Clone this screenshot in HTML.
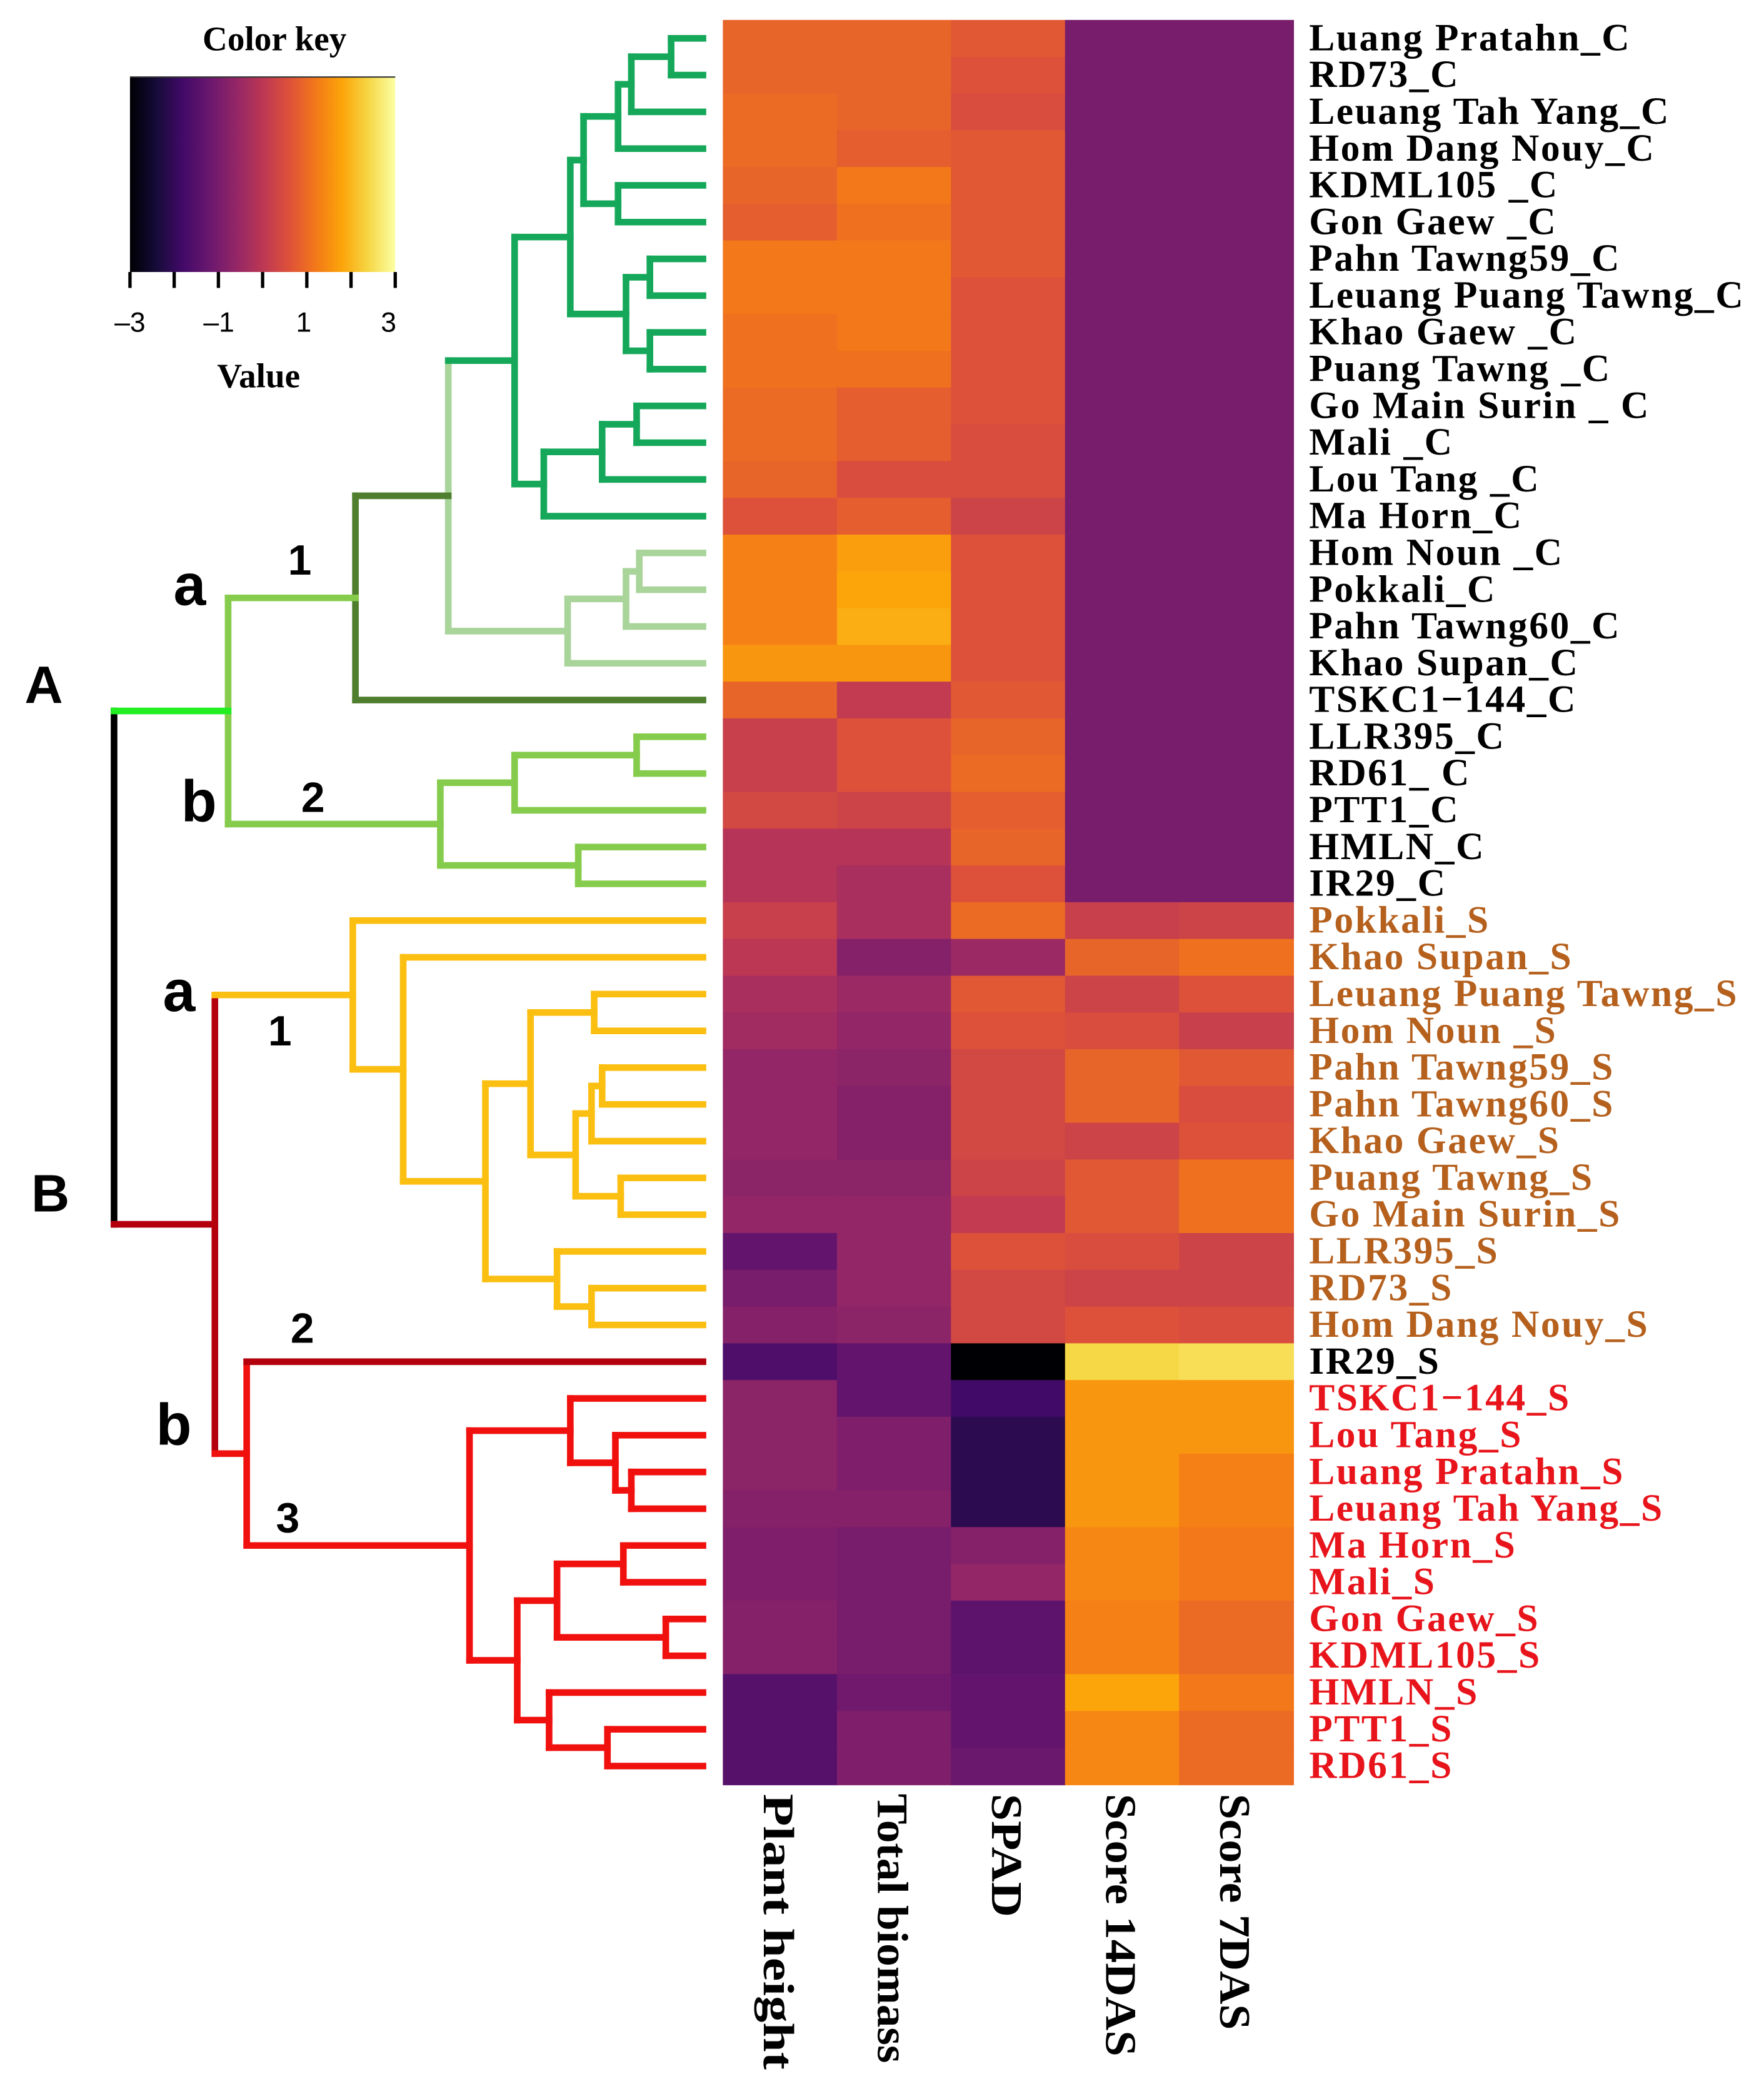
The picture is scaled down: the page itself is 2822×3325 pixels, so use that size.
<!DOCTYPE html>
<html><head><meta charset="utf-8"><style>
html,body{margin:0;padding:0;background:#fff}
svg{display:block}
.lab{font-family:"Liberation Serif",serif;font-weight:bold;font-size:29px;letter-spacing:1.2px}
.key{font-family:"Liberation Serif",serif;font-weight:bold}
.col{font-family:"Liberation Serif",serif;font-weight:bold;font-size:33px}
.big{font-family:"Liberation Sans",sans-serif;font-weight:bold}
</style></head><body>
<svg id="chart" width="2822" height="3325" viewBox="0 0 1330 1567" xmlns="http://www.w3.org/2000/svg">
<defs>
<linearGradient id="inf" x1="0" x2="1" y1="0" y2="0">
<stop offset="0" stop-color="#000004"/><stop offset="0.1" stop-color="#160b39"/><stop offset="0.2" stop-color="#420a68"/><stop offset="0.3" stop-color="#6a176e"/><stop offset="0.4" stop-color="#932667"/><stop offset="0.5" stop-color="#bc3754"/><stop offset="0.6" stop-color="#dd513a"/><stop offset="0.7" stop-color="#f37819"/><stop offset="0.8" stop-color="#fca50a"/><stop offset="0.9" stop-color="#f6d746"/><stop offset="1" stop-color="#fcffa4"/>
</linearGradient>
</defs>
<g>
<text x="207" y="38" text-anchor="middle" class="key" font-size="26">Color key</text>
<rect x="98" y="58" width="200" height="147" fill="url(#inf)"/>
<line x1="98" y1="58" x2="298" y2="58" stroke="#333" stroke-width="1"/>
<g id="keyticks" stroke="#000" stroke-width="2.5"></g>
<g font-family="Liberation Sans,sans-serif" font-size="21" text-anchor="middle">
<text x="98" y="250">–3</text><text x="165" y="250">–1</text><text x="229" y="250">1</text><text x="293" y="250">3</text></g>
<text x="195" y="292" text-anchor="middle" class="key" font-size="26">Value</text>
</g>
<g id="cells"></g>
<g id="tree" fill="none" stroke-width="5"></g>
<g id="rowlabels"></g>
<g id="collabels"></g>
<g class="big">
<text x="33" y="530" font-size="40" text-anchor="middle">A</text>
<text x="38" y="913" font-size="40" text-anchor="middle">B</text>
<text x="143" y="456" font-size="44" text-anchor="middle">a</text>
<text x="150" y="619" font-size="44" text-anchor="middle">b</text>
<text x="135" y="762" font-size="44" text-anchor="middle">a</text>
<text x="131" y="1089" font-size="44" text-anchor="middle">b</text>
<text x="226" y="433" font-size="32" text-anchor="middle">1</text>
<text x="236" y="612" font-size="32" text-anchor="middle">2</text>
<text x="211" y="788" font-size="32" text-anchor="middle">1</text>
<text x="228" y="1012" font-size="32" text-anchor="middle">2</text>
<text x="217" y="1155" font-size="32" text-anchor="middle">3</text>
</g>
</svg>
<script>
const rows = ["Luang Pratahn_C","RD73_C","Leuang Tah Yang_C","Hom Dang Nouy_C","KDML105 _C","Gon Gaew _C","Pahn Tawng59_C","Leuang Puang Tawng_C","Khao Gaew _C","Puang Tawng _C","Go Main Surin _ C","Mali _C","Lou Tang _C","Ma Horn_C","Hom Noun _C","Pokkali_C","Pahn Tawng60_C","Khao Supan_C","TSKC1−144_C","LLR395_C","RD61_ C","PTT1_C","HMLN_C","IR29_C",
"Pokkali_S","Khao Supan_S","Leuang Puang Tawng_S","Hom Noun _S","Pahn Tawng59_S","Pahn Tawng60_S","Khao Gaew_S","Puang Tawng_S","Go Main Surin_S","LLR395_S","RD73_S","Hom Dang Nouy_S","IR29_S","TSKC1−144_S","Lou Tang_S","Luang Pratahn_S","Leuang Tah Yang_S","Ma Horn_S","Mali_S","Gon Gaew_S","KDML105_S","HMLN_S","PTT1_S","RD61_S"];
const columns = ["Plant height","Total biomass","SPAD","Score 14DAS","Score 7DAS"];
const plantHeight = [0.9,0.9,1.0,1.0,0.9,0.8,1.2,1.2,1.1,1.1,1.0,1.0,0.9,0.6,1.3,1.3,1.3,1.6,0.9,0.2,0.2,0.4,-0.1,-0.1,
0.2,0.0,-0.3,-0.4,-0.6,-0.6,-0.6,-0.7,-0.6,-1.3,-1.0,-0.8,-1.6,-0.7,-0.7,-0.7,-0.8,-0.9,-0.9,-0.8,-0.8,-1.5,-1.5,-1.5];
const totalBiomass = [0.9,0.9,0.9,0.8,1.2,1.1,1.2,1.2,1.2,1.1,0.8,0.8,0.5,0.8,1.7,1.8,1.9,1.6,0.1,0.6,0.6,0.3,-0.1,-0.3,
-0.3,-0.8,-0.5,-0.6,-0.7,-0.8,-0.8,-0.7,-0.6,-0.6,-0.6,-0.7,-1.3,-1.3,-0.9,-0.9,-0.8,-1.0,-1.0,-1.0,-1.0,-1.1,-0.9,-0.9];
const spad = [0.7,0.6,0.5,0.7,0.7,0.7,0.7,0.6,0.6,0.6,0.6,0.5,0.5,0.3,0.6,0.6,0.6,0.6,0.7,0.9,1.0,0.8,0.9,0.6,
1.0,-0.5,0.7,0.6,0.4,0.4,0.4,0.3,0.1,0.6,0.4,0.4,-3.0,-1.8,-2.1,-2.1,-2.1,-0.8,-0.6,-1.4,-1.4,-1.3,-1.3,-1.2];
const score14 = [-1.0,-1.0,-1.0,-1.0,-1.0,-1.0,-1.0,-1.0,-1.0,-1.0,-1.0,-1.0,-1.0,-1.0,-1.0,-1.0,-1.0,-1.0,-1.0,-1.0,-1.0,-1.0,-1.0,-1.0,
0.2,0.9,0.3,0.5,0.9,0.9,0.3,0.7,0.7,0.5,0.3,0.6,2.4,1.6,1.6,1.6,1.6,1.4,1.4,1.3,1.3,1.8,1.4,1.4];
const score7 = [-1.0,-1.0,-1.0,-1.0,-1.0,-1.0,-1.0,-1.0,-1.0,-1.0,-1.0,-1.0,-1.0,-1.0,-1.0,-1.0,-1.0,-1.0,-1.0,-1.0,-1.0,-1.0,-1.0,-1.0,
0.3,1.1,0.6,0.2,0.7,0.5,0.6,1.1,1.1,0.3,0.3,0.5,2.5,1.6,1.6,1.3,1.3,1.2,1.2,1.0,1.0,1.2,1.0,1.0];
const keyTicks = [-3,-2,-1,0,1,2,3];
const NS="http://www.w3.org/2000/svg";
const stops=[[0,0,4],[22,11,57],[66,10,104],[106,23,110],[147,38,103],[188,55,84],[221,81,58],[243,120,25],[252,165,10],[246,215,70],[252,255,164]];
function color(v){let t=Math.max(0,Math.min(1,(v+3)/6))*10;let i=Math.min(9,Math.floor(t)),f=t-i;const a=stops[i],b=stops[i+1];return `rgb(${a.map((c,k)=>Math.round(c+(b[k]-c)*f)).join(',')})`;}
const X0=545,X1=975,Y0=15,Y1=1345;
const cw=(X1-X0)/columns.length, rh=(Y1-Y0)/rows.length;
const xCol=j=>X0+j*cw, yRow=i=>Y0+i*rh, yMid=i=>Y0+(i+0.5)*rh;
const keyX=v=>98+(v+3)/6*200;
const kt=document.getElementById('keyticks');
keyTicks.forEach(v=>{const l=document.createElementNS(NS,'line');l.setAttribute('x1',keyX(v));l.setAttribute('x2',keyX(v));l.setAttribute('y1',205);l.setAttribute('y2',217);


kt.appendChild(l);});
const series=[plantHeight,totalBiomass,spad,score14,score7];
const cells=document.getElementById('cells');
series.forEach((s,j)=>s.forEach((v,i)=>{const r=document.createElementNS(NS,'rect');r.setAttribute('x',xCol(j));r.setAttribute('y',yRow(i));r.setAttribute('width',cw+0.6);r.setAttribute('height',rh+0.6);r.setAttribute('fill',color(v));


cells.appendChild(r);}));
const rl=document.getElementById('rowlabels');
rows.forEach((n,i)=>{const t=document.createElementNS(NS,'text');t.setAttribute('x',987);t.setAttribute('y',yMid(i)+9);t.setAttribute('class','lab');
let c='#000';if(i>=24&&i<=35)c='#b5601d';if(i>=37)c='#e8141b';t.setAttribute('fill',c);t.textContent=n;


rl.appendChild(t);});
const cl=document.getElementById('collabels');
const colLen={"Plant height":208,"Total biomass":203,"SPAD":93,"Score 14DAS":198,"Score 7DAS":178};
columns.forEach((n,j)=>{const t=document.createElementNS(NS,'text');const x=xCol(j)+cw/2-12;t.setAttribute('transform',`translate(${x},1352) rotate(90)`);t.setAttribute('class','col');t.setAttribute('textLength',colLen[n]||150);t.setAttribute('lengthAdjust','spacingAndGlyphs');t.textContent=n;


cl.appendChild(t);});
const tree=document.getElementById('tree');
const LEAF=530;
function N(x,a,b,col,hc){return {x,a,b,col,hc};}
function yOf(n){return typeof n==='number'?yMid(n):n.y;}
function xOf(n){return typeof n==='number'?LEAF:n.x;}
function line(x1,y1,x2,y2,c){const l=document.createElementNS(NS,'line');l.setAttribute('x1',x1);l.setAttribute('y1',y1);l.setAttribute('x2',x2);l.setAttribute('y2',y2);l.setAttribute('stroke',c);l.setAttribute('stroke-linecap','square');


tree.appendChild(l);}
function draw(n){if(typeof n==='number')return;draw(n.a);draw(n.b);const ya=yOf(n.a),yb=yOf(n.b);n.y=(ya+yb)/2;}
function render(n){if(typeof n==='number')return;render(n.a);render(n.b);
 const ya=yOf(n.a),yb=yOf(n.b);line(n.x,ya,n.x,yb,n.col);
 line(n.x,ya,xOf(n.a),ya,(n.hc&&n.hc[0])||n.col);line(n.x,yb,xOf(n.b),yb,(n.hc&&n.hc[1])||n.col);}
const G='#16a85a',LG='#a9d49a',DG='#4f7f2e',MG='#86cc4c',Y='#fbbf12',R='#f0110f',DR='#b4000d';
const a1=N(506,0,1,G),b1=N(476,a1,2,G),c1=N(466,b1,3,G),d1=N(466,4,5,G),d=N(440,c1,d1,G);
const g1=N(490,6,7,G),g2=N(490,8,9,G),g=N(472,g1,g2,G),h=N(430,d,g,G);
const i1=N(480,10,11,G),i2=N(454,i1,12,G),i3=N(410,i2,13,G),j=N(388,h,i3,G);
const p1=N(482,14,15,LG),p2=N(472,p1,16,LG),p=N(428,p2,17,LG);
const q=N(338,j,p,LG,[G,LG]),r=N(268,q,18,DG);
const s1=N(480,19,20,MG),s2=N(388,s1,21,MG),s3=N(436,22,23,MG),s=N(332,s2,s3,MG);
const t=N(172,r,s,MG);
const y1=N(448,26,27,Y),y2=N(454,28,29,Y),y3=N(446,y2,30,Y),y4=N(468,31,32,Y),y5=N(434,y3,y4,Y),y6=N(400,y1,y5,Y);
const y7=N(446,34,35,Y),y8=N(420,33,y7,Y),y9=N(366,y6,y8,Y),y10=N(304,25,y9,Y),ya=N(266,24,y10,Y);
const r1=N(476,39,40,R),r2=N(464,38,r1,R),r3=N(430,37,r2,R);
const r4=N(470,41,42,R),r5=N(502,43,44,R),r6=N(420,r4,r5,R),r7=N(458,46,47,R),r8=N(414,45,r7,R),r9=N(390,r6,r8,R),r10=N(354,r3,r9,R);
const rb=N(186,36,r10,R,[DR,R]);
const B=N(162,ya,rb,DR,[Y,R]);
const root=N(86,t,B,'#000',['#22ee22',DR]);
draw(root);render(root);
</script>
</body></html>
